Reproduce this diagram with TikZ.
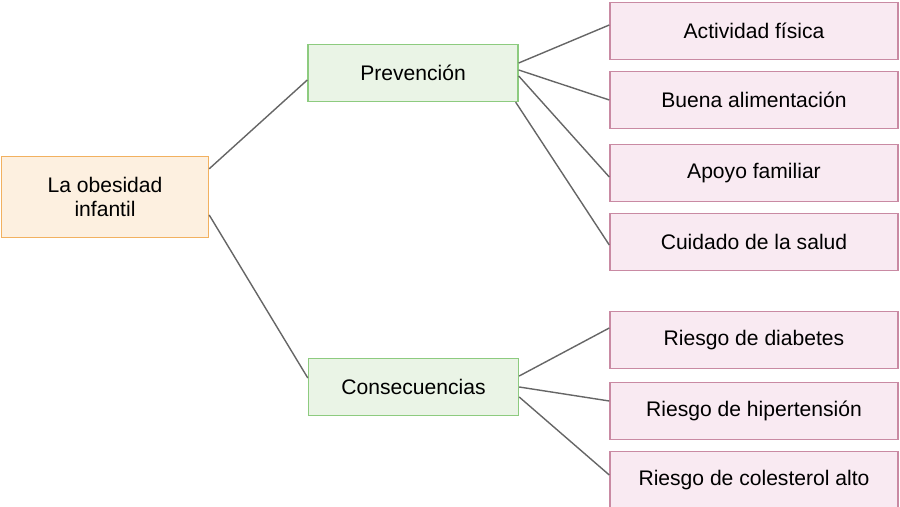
\documentclass[tikz,border=0pt]{standalone}
\usepackage{fontspec}
\setmainfont{Liberation Sans}
\usetikzlibrary{positioning}
\definecolor{rootfill}{HTML}{FDF0E0}
\definecolor{rootdraw}{HTML}{F2B160}
\definecolor{midfill}{HTML}{EAF4E6}
\definecolor{middraw}{HTML}{8DCB7F}
\definecolor{leaffill}{HTML}{F9EAF2}
\definecolor{leafdraw}{HTML}{C98AA3}
\tikzstyle{rootbox} = [draw=rootdraw, fill=rootfill, thick, minimum width=4.14cm, minimum height=1.62cm, align=center, font=\large]
\tikzstyle{midbox} = [draw=middraw, fill=midfill, thick, minimum width=4.2cm, minimum height=1.14cm, font=\large]
\tikzstyle{leafbox} = [draw=leafdraw, fill=leaffill, thick, minimum width=5.76cm, minimum height=1.14cm, font=\large]
\tikzstyle{link} = [draw=gray!80!black, thick]
\begin{document}
\begin{tikzpicture}
      \useasboundingbox (0,0) rectangle (18,-10.14);
      \node[rootbox] (obesidad) at (2.1,-3.94) {La obesidad\\infantil};
      \node[midbox] (prev) at (8.26,-1.46) {Prevención};
      \node[midbox] (cons) at (8.27,-7.74) {Consecuencias};
      \node[leafbox] (act) at (15.08,-0.62) {Actividad física};
      \node[leafbox] (ali) at (15.08,-2.0) {Buena alimentación};
      \node[leafbox] (apo) at (15.08,-3.46) {Apoyo familiar};
      \node[leafbox] (cui) at (15.08,-4.84) {Cuidado de la salud};
      \node[leafbox] (dia) at (15.08,-6.8) {Riesgo de diabetes};
      \node[leafbox] (hip) at (15.08,-8.22) {Riesgo de hipertensión};
      \node[leafbox] (col) at (15.08,-9.6) {Riesgo de colesterol alto};
      \draw[link] (obesidad.north east) ++(0,-0.26) coordinate (r1) -- (prev.south west |- 0,-1.6);
      \draw[link] (obesidad.east) ++(0,-0.36) coordinate (r2) -- (cons.west |- 0,-7.56);
      \draw[link] ([yshift=0.2cm]prev.east) -- ([yshift=0.12cm]act.west);
      \draw[link] ([yshift=0.06cm]prev.east) -- ([yshift=0cm]ali.west);
      \draw[link] ([yshift=-0.06cm]prev.east) -- ([yshift=-0.08cm]apo.west);
      \draw[link] ([xshift=-0.06cm]prev.south east) -- ([yshift=-0.06cm]cui.west);
      \draw[link] ([yshift=0.22cm]cons.east) -- ([yshift=0.24cm]dia.west);
      \draw[link] ([yshift=0cm]cons.east) -- ([yshift=0.2cm]hip.west);
      \draw[link] ([yshift=-0.2cm]cons.east) -- ([yshift=0.1cm]col.west);
\end{tikzpicture}
\end{document}
